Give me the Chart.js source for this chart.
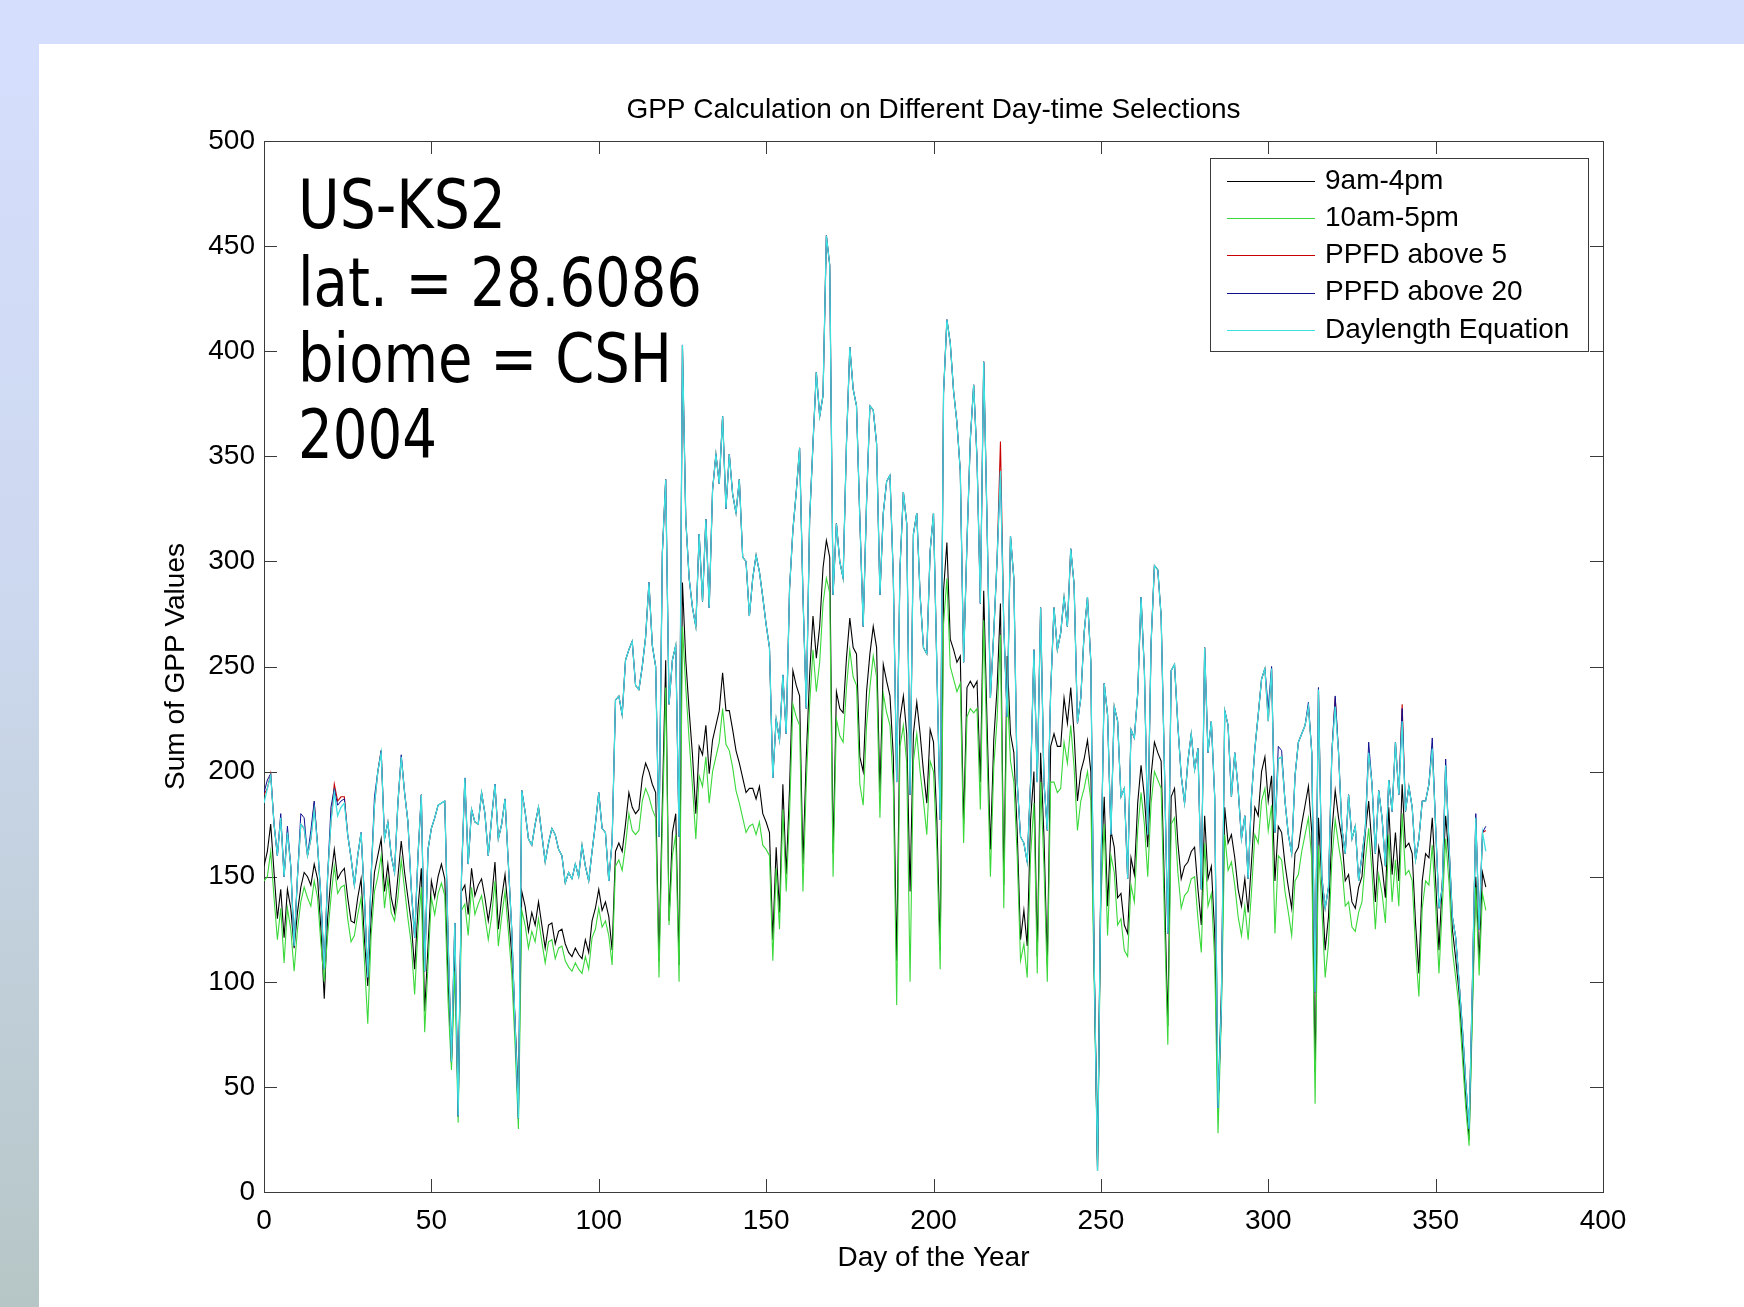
<!DOCTYPE html>
<html>
<head>
<meta charset="utf-8">
<script src="https://cdn.jsdelivr.net/npm/chart.js@4.4.0/dist/chart.umd.min.js"></script>
<style>
  html, body { margin: 0; padding: 0; }
  body { width: 1744px; height: 1307px; position: relative; overflow: hidden; background: #d5defc; }
  #strip { position: absolute; left: 0; top: 44px; width: 39px; height: 1263px;
           background: linear-gradient(to bottom, #d5defc 0%, #ccd8ee 45%, #b6c6c6 100%); }
  #panel { position: absolute; left: 39px; top: 44px; width: 1705px; height: 1263px; background: #fff; }
  #chart { position: absolute; left: 0; top: 0; }
</style>
</head>
<body>
<div id="strip"></div>
<div id="panel"></div>
<canvas id="chart" width="1744" height="1307"></canvas>
<script>
// --- Data (day of year 0..365, 2004) ---
const days = Array.from({ length: 366 }, (_, i) => i);

const xTicks = [0, 50, 100, 150, 200, 250, 300, 350, 400];
const yTicks = [0, 50, 100, 150, 200, 250, 300, 350, 400, 450, 500];

const seriesNames = ['9am-4pm', '10am-5pm', 'PPFD above 5', 'PPFD above 20', 'Daylength Equation'];
const seriesColors = ['#000000', '#3ad83a', '#c80000', '#101090', '#3ee0e0'];

// 9am-4pm
const gpp9to4 = [
  155,162,175,152,130,144,121,144,135,116,
  133,145,152,150,146,156,149,125,92,130,
  150,163,149,152,154,140,129,128,140,149,
  120,98,130,152,160,168,143,156,140,133,
  150,167,152,140,128,106,135,154,86,117,
  148,140,150,156,149,100,62,114,44,143,
  146,132,154,141,146,149,140,129,140,157,
  125,140,151,133,113,81,44,143,136,124,
  133,127,138,127,116,127,128,118,124,125,
  118,114,112,116,113,111,120,114,129,135,
  144,134,138,131,115,162,166,162,175,190,
  183,180,182,197,204,200,194,190,110,185,
  253,129,171,180,108,290,253,229,208,180,
  212,208,222,199,215,222,229,247,229,229,
  220,210,204,197,190,192,192,187,193,180,
  176,171,120,164,133,194,151,192,248,241,
  236,156,207,246,274,254,269,297,310,302,
  161,238,230,228,254,273,259,256,207,200,
  238,256,269,259,190,251,243,236,207,110,
  225,236,218,143,218,233,218,200,185,220,
  214,177,115,286,309,263,258,252,255,175,
  240,243,240,243,195,286,223,163,215,240,
  280,146,255,218,209,172,120,134,117,177,
  200,112,209,169,108,212,218,212,212,235,
  223,240,218,186,200,206,215,200,109,15,
  150,188,136,172,164,140,142,127,123,159,
  151,185,203,188,164,198,214,209,205,144,
  79,188,192,166,149,155,157,162,164,144,
  127,179,149,155,123,40,95,183,166,170,
  159,144,136,149,133,157,183,179,200,207,
  186,198,148,174,171,156,145,135,161,164,
  175,184,193,171,57,178,148,115,131,171,
  191,178,168,148,151,138,135,145,150,171,
  186,164,138,164,155,140,183,151,171,148,
  194,164,166,161,128,104,148,161,159,178,
  148,115,148,179,158,125,111,95,70,45,
  25,90,150,110,152,145
];

// 10am-5pm
const gpp10to5 = [
  148,150,162,140,120,135,109,135,125,105,
  125,138,145,140,136,148,140,118,100,122,
  140,155,142,145,146,130,119,122,132,140,
  110,80,122,143,150,160,135,149,133,129,
  140,158,144,130,118,94,125,145,76,108,
  140,132,142,147,141,90,58,105,33,134,
  137,122,145,132,137,141,131,120,131,148,
  117,131,143,124,104,70,30,134,127,116,
  124,119,130,119,109,119,120,111,116,117,
  110,107,105,109,106,104,112,106,121,125,
  135,126,129,122,108,155,158,153,165,180,
  172,170,172,186,192,188,182,178,102,175,
  240,127,160,170,100,269,240,215,193,168,
  198,193,207,185,200,207,214,230,213,210,
  202,191,185,178,171,174,175,170,176,165,
  163,160,110,154,125,182,143,180,232,226,
  222,143,195,232,258,238,252,280,292,285,
  150,225,217,214,240,258,245,241,194,184,
  222,240,255,245,178,237,228,222,193,89,
  212,222,204,100,205,218,200,186,170,205,
  200,163,106,270,292,250,244,238,242,166,
  226,230,228,230,182,272,208,150,202,225,
  265,135,240,205,195,160,110,118,102,160,
  185,104,195,155,100,195,195,190,192,214,
  204,222,202,172,186,192,200,186,100,12,
  138,175,122,160,152,127,130,115,112,146,
  138,172,190,175,150,185,200,196,192,130,
  70,175,178,152,135,141,143,149,150,130,
  114,166,136,142,110,28,85,170,153,157,
  146,131,122,136,120,143,170,166,186,192,
  172,184,123,160,158,143,133,122,148,151,
  162,170,178,158,42,165,135,102,118,158,
  177,165,155,136,138,126,124,133,138,158,
  173,152,125,151,142,128,170,138,158,136,
  180,151,153,148,116,93,135,148,146,165,
  136,104,136,168,147,115,102,88,64,40,
  22,85,145,103,142,134
];

// Daylength Equation
const gppDaylength = [
  185,192,198,175,160,178,150,171,155,117,
  150,175,173,160,168,182,165,140,106,150,
  176,190,179,183,185,170,159,146,160,171,
  140,102,150,184,200,209,168,176,160,152,
  185,207,190,176,144,121,160,189,105,163,
  173,178,184,185,186,120,62,128,36,150,
  197,156,182,176,175,190,180,160,178,194,
  168,175,187,156,125,80,35,191,181,168,
  165,175,183,170,157,166,173,170,163,160,
  147,152,149,156,150,165,155,148,162,175,
  190,173,171,148,167,234,236,227,253,258,
  262,241,239,250,264,290,260,250,169,304,
  339,232,253,260,169,403,320,292,278,269,
  313,281,320,278,334,351,337,369,325,351,
  332,323,339,302,300,274,292,303,295,283,
  270,259,197,225,215,246,218,287,315,333,
  354,284,230,320,356,390,369,379,455,441,
  284,318,300,292,356,402,382,374,320,269,
  328,374,372,356,284,323,338,341,292,195,
  297,333,318,189,313,323,284,259,256,305,
  323,250,177,380,415,404,381,366,343,252,
  309,358,384,349,280,395,318,235,266,301,
  343,269,226,312,292,195,169,166,157,195,
  258,195,278,195,172,238,278,258,266,283,
  269,306,289,223,235,266,283,252,109,10,
  150,242,227,170,231,224,188,192,149,220,
  216,237,283,248,170,261,298,296,274,201,
  123,248,251,222,198,185,205,218,201,211,
  144,259,209,224,188,40,88,229,222,188,
  209,192,168,179,149,188,211,227,244,249,
  224,249,171,206,207,186,170,161,198,214,
  218,222,231,209,95,239,150,135,145,209,
  231,209,173,161,189,168,174,148,160,173,
  209,194,161,191,178,155,196,181,214,189,
  224,181,193,183,158,168,186,186,194,211,
  174,135,145,203,165,131,121,100,78,52,
  30,100,178,125,171,162
];

// PPFD curves follow the daylength curve except on these days: [day, value]
const ppfd20Diffs = [
  [0,190],[1,196],[2,199],[5,180],[7,174],[11,180],[12,178],[14,172],[15,186],
  [20,183],[21,192],[22,184],[23,186],[24,187],[33,188],[35,210],[41,208],
  [300,230],[301,250],[303,212],[304,210],[312,233],[315,240],[320,236],
  [330,214],[340,230],[349,216],[353,206],[362,180],[365,174]
];
const ppfd5Diffs = [
  [0,189],[2,199],[15,185],[21,194],[22,186],[23,188],[24,188],[35,210],
  [220,357],[301,249],[320,235],[340,232],[365,172]
];

function withDiffs(base, diffs) {
  const out = base.slice();
  diffs.forEach(([d, v]) => { out[d] = v; });
  return out;
}
const gppPpfd20 = withDiffs(gppDaylength, ppfd20Diffs);
const gppPpfd5 = withDiffs(gppDaylength, ppfd5Diffs);

const seriesData = [gpp9to4, gpp10to5, gppPpfd5, gppPpfd20, gppDaylength];
const seriesWidths = [1.1, 1.1, 1.1, 1.0, 1.3];
// later series drawn on top (matlab plotting order)
const seriesOrder = [5, 4, 3, 2, 1];

// --- Frame, ticks, titles, legend and site text ---
const FONT = '"Liberation Sans", Arial, sans-serif';

const matlabFrame = {
  id: 'matlabFrame',
  beforeDatasetsDraw(chart) {
    const { ctx, chartArea: a, scales } = chart;
    ctx.save();
    ctx.strokeStyle = '#3a3a3a';
    ctx.lineWidth = 1;
    ctx.strokeRect(a.left + 0.5, a.top + 0.5, a.right - a.left, a.bottom - a.top);
    const tl = 13;
    ctx.beginPath();
    xTicks.forEach(v => {
      const x = Math.round(scales.x.getPixelForValue(v)) + 0.5;
      ctx.moveTo(x, a.bottom); ctx.lineTo(x, a.bottom - tl);
      ctx.moveTo(x, a.top); ctx.lineTo(x, a.top + tl);
    });
    yTicks.forEach(v => {
      const y = Math.round(scales.y.getPixelForValue(v)) + 0.5;
      ctx.moveTo(a.left, y); ctx.lineTo(a.left + tl, y);
      ctx.moveTo(a.right, y); ctx.lineTo(a.right - tl, y);
    });
    ctx.stroke();
    ctx.restore();
  },
  afterDraw(chart) {
    const { ctx, chartArea: a } = chart;
    const cx = (a.left + a.right) / 2;
    ctx.save();
    ctx.fillStyle = '#000';
    ctx.font = '28px ' + FONT;
    ctx.textAlign = 'center';
    ctx.textBaseline = 'middle';
    ctx.fillText('GPP Calculation on Different Day-time Selections', cx, 110);
    ctx.fillText('Day of the Year', cx, 1258);
    ctx.save();
    ctx.translate(176, (a.top + a.bottom) / 2);
    ctx.rotate(-Math.PI / 2);
    ctx.fillText('Sum of GPP Values', 0, 0);
    ctx.restore();

    // site text, squeezed to the widths seen in the figure
    const site = [
      ['US-KS2', 228, 208],
      ['lat. = 28.6086', 306, 404],
      ['biome = CSH', 382, 374],
      ['2004', 458, 139]
    ];
    ctx.font = '68px "DejaVu Sans", sans-serif';
    ctx.textAlign = 'left';
    ctx.textBaseline = 'alphabetic';
    site.forEach(([txt, base, w]) => {
      const m = ctx.measureText(txt).width;
      ctx.save();
      ctx.translate(298, base);
      ctx.scale(w / m, 1);
      ctx.fillText(txt, 0, 0);
      ctx.restore();
    });

    // legend box
    const lx = 1210, ly = 158, lw = 378, lh = 193;
    ctx.fillStyle = '#fff';
    ctx.fillRect(lx, ly, lw, lh);
    ctx.strokeStyle = '#3a3a3a';
    ctx.lineWidth = 1;
    ctx.strokeRect(lx + 0.5, ly + 0.5, lw, lh);
    ctx.font = '28px ' + FONT;
    ctx.textBaseline = 'middle';
    seriesNames.forEach((name, i) => {
      const y = 181 + i * 37.2;
      ctx.strokeStyle = seriesColors[i];
      ctx.lineWidth = 1.2;
      ctx.beginPath();
      ctx.moveTo(1227, Math.round(y) + 0.5);
      ctx.lineTo(1315, Math.round(y) + 0.5);
      ctx.stroke();
      ctx.fillStyle = '#000';
      ctx.fillText(name, 1325, y);
    });
    ctx.restore();
  }
};

new Chart(document.getElementById('chart'), {
  type: 'line',
  data: {
    labels: days,
    datasets: seriesNames.map((name, i) => ({
      label: name,
      data: seriesData[i],
      borderColor: seriesColors[i],
      borderWidth: seriesWidths[i],
      pointRadius: 0,
      tension: 0,
      fill: false,
      order: seriesOrder[i]
    }))
  },
  options: {
    responsive: false,
    animation: false,
    layout: { padding: { top: 141, right: 141, bottom: 0, left: 0 } },
    plugins: {
      legend: { display: false },
      tooltip: { enabled: false },
      title: { display: false }
    },
    scales: {
      x: {
        type: 'linear',
        min: 0,
        max: 400,
        afterBuildTicks: s => { s.ticks = xTicks.map(v => ({ value: v })); },
        afterFit: s => { s.height = 115; s.paddingLeft = 0; s.paddingRight = 0; },
        ticks: { color: '#000', font: { size: 28, family: FONT }, padding: 12, maxRotation: 0 },
        grid: { display: false, drawTicks: false },
        border: { display: false }
      },
      y: {
        min: 0,
        max: 500,
        afterBuildTicks: s => { s.ticks = yTicks.map(v => ({ value: v })); },
        afterFit: s => { s.width = 264; s.paddingTop = 0; s.paddingBottom = 0; },
        ticks: { color: '#000', font: { size: 28, family: FONT }, padding: 9 },
        grid: { display: false, drawTicks: false },
        border: { display: false }
      }
    }
  },
  plugins: [matlabFrame]
});
</script>
</body>
</html>
